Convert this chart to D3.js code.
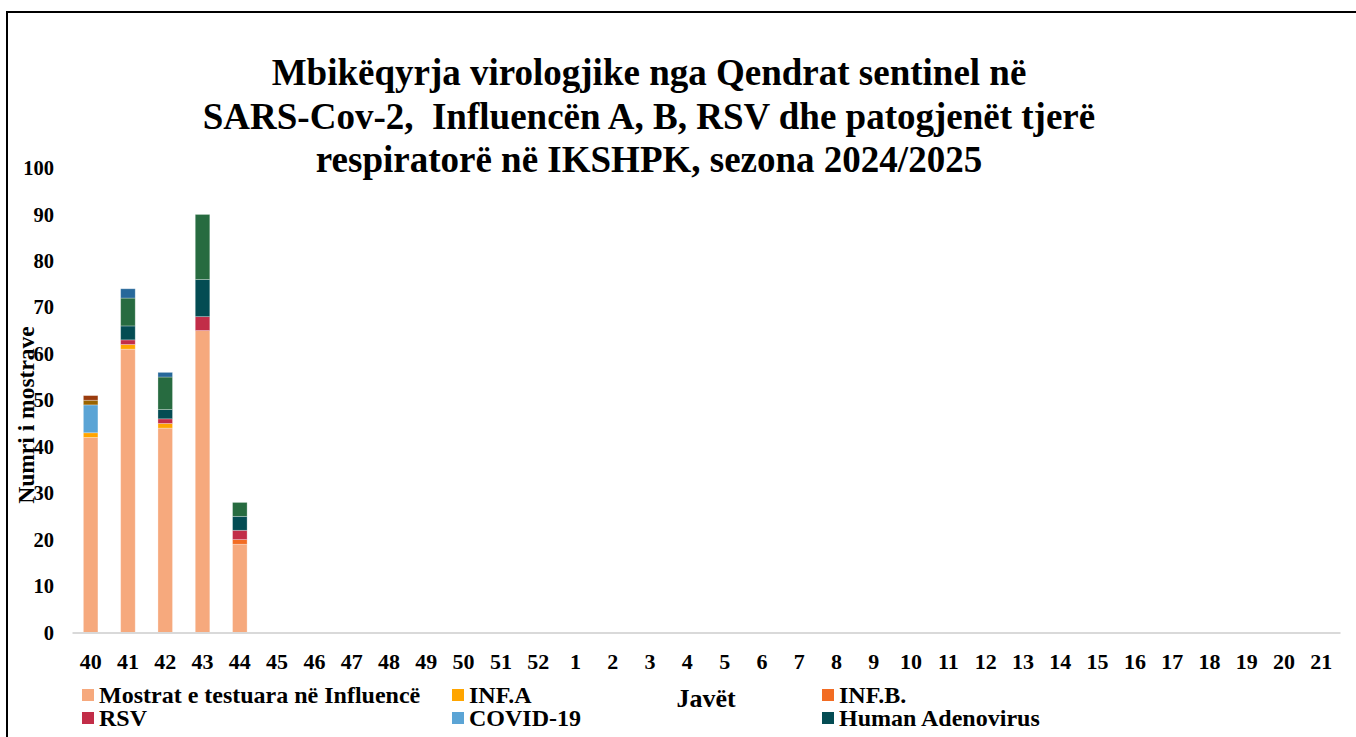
<!DOCTYPE html>
<html>
<head>
<meta charset="utf-8">
<script src="https://cdnjs.cloudflare.com/ajax/libs/d3/7.8.5/d3.min.js"></script>
<style>
    body { margin: 0; background: #fff; }
    svg text { font-family: "Liberation Serif", "Times New Roman", serif; font-weight: bold; fill: #000; }
</style>
</head>
<body>
<svg id="chart" width="1356" height="737"></svg>
<script>
// weeks of the season (x categories)
var weeks = ["40", "41", "42", "43", "44", "45", "46", "47", "48", "49", "50", "51", "52",
    "1", "2", "3", "4", "5", "6", "7", "8", "9", "10", "11", "12", "13", "14", "15", "16",
    "17", "18", "19", "20", "21"];

// series values, bottom of the stack first (only weeks 40-44 have data)
var mostrat = [42, 61, 44, 65, 19];
var infA = [1, 1, 1, 0, 0];
var infB = [0, 0, 0, 0, 1];
var rsv = [0, 1, 1, 3, 2];
var covid = [6, 0, 0, 0, 0];
var adeno = [0, 3, 2, 8, 3];
var rhino = [0, 6, 7, 14, 3];
var metapneumo = [0, 2, 1, 0, 0];
var parainfluenza = [1, 0, 0, 0, 0];
var bocavirus = [1, 0, 0, 0, 0];

var seriesNames = ["Mostrat e testuara në Influencë", "INF.A", "INF.B.", "RSV", "COVID-19",
    "Human Adenovirus", "Rhinovirus", "Human Metapneumovirus", "Parainfluenza", "Bocavirus"];
var seriesValues = [mostrat, infA, infB, rsv, covid, adeno, rhino, metapneumo, parainfluenza, bocavirus];
var seriesColors = ["#f6a97d", "#ffa500", "#f26c23", "#c22d48", "#5ba4d5",
    "#044c53", "#276b40", "#27689a", "#9a6400", "#9a3b0e"];

var yTicks = [0, 10, 20, 30, 40, 50, 60, 70, 80, 90, 100];

var titleLines = ["Mbikëqyrja virologjike nga Qendrat sentinel në",
    "SARS-Cov-2,  Influencën A, B, RSV dhe patogjenët tjerë",
    "respiratorë në IKSHPK, sezona 2024/2025"];

// the legend box is cut off in the original, only 6 entries show
var legendCount = 6;

var svg = d3.select("#chart");

// build table: one row per week
var table = weeks.map(function (w, i) {
    var row = {week: w};
    seriesNames.forEach(function (name, s) {
        row[name] = seriesValues[s][i] || 0;
    });
    return row;
});

var stack = d3.stack().keys(seriesNames);
var stacked = stack(table);

var xScale = d3.scaleBand()
    .domain(weeks)
    .range([72, 1340])
    .paddingInner(0.61)
    .paddingOuter(0.305);

var yScale = d3.scaleLinear()
    .domain([0, 100])
    .range([632.5, 168]);

// outer border (only left and top visible)
svg.append("path")
    .attr("d", "M7,737 L7,12 L1356,12")
    .attr("fill", "none")
    .attr("stroke", "#000")
    .attr("stroke-width", 2);

// title
svg.append("g")
    .selectAll("text")
    .data(titleLines)
    .enter()
    .append("text")
    .attr("x", 649)
    .attr("y", function (d, i) {
        return 85 + i * 43.5;
    })
    .attr("text-anchor", "middle")
    .style("font-size", "37px")
    .style("white-space", "pre")
    .text(function (d) {
        return d;
    });

// bars
var layers = svg.append("g")
    .selectAll("g")
    .data(stacked)
    .enter()
    .append("g")
    .attr("fill", function (d, i) {
        return seriesColors[i];
    });

layers.selectAll("rect")
    .data(function (d) {
        return d.filter(function (p) {
            return p[1] - p[0] > 0;
        });
    })
    .enter()
    .append("rect")
    .attr("x", function (d) {
        return xScale(d.data.week);
    })
    .attr("width", xScale.bandwidth())
    .attr("y", function (d) {
        return yScale(d[1]);
    })
    .attr("height", function (d) {
        return yScale(d[0]) - yScale(d[1]);
    })
    .attr("stroke", "#fff")
    .attr("stroke-opacity", 0.35)
    .attr("stroke-width", 0.8);

// x axis
var xAxis = d3.axisBottom(xScale).tickSize(0).tickPadding(0);
var xAxisG = svg.append("g")
    .attr("transform", "translate(0," + yScale(0) + ")")
    .call(xAxis);
xAxisG.select(".domain").attr("stroke", "#d9d9d9").attr("stroke-width", 2);
xAxisG.selectAll("text")
    .style("font-size", "22px")
    .attr("y", 36.5)
    .attr("dy", null);

// y axis (labels only)
var yAxis = d3.axisLeft(yScale).tickValues(yTicks).tickSize(0).tickPadding(0);
var yAxisG = svg.append("g")
    .attr("transform", "translate(54,0)")
    .call(yAxis);
yAxisG.select(".domain").remove();
yAxisG.selectAll("text")
    .style("font-size", "20.5px");

// axis titles
svg.append("text")
    .attr("transform", "translate(34,415) rotate(-90)")
    .attr("text-anchor", "middle")
    .style("font-size", "23.5px")
    .text("Numri i mostrave");

svg.append("text")
    .attr("x", 706)
    .attr("y", 706.5)
    .attr("text-anchor", "middle")
    .style("font-size", "26px")
    .text("Javët");

// legend
var legendX = [82, 452, 822];
var legend = svg.append("g")
    .selectAll("g")
    .data(seriesNames.slice(0, legendCount))
    .enter()
    .append("g")
    .attr("transform", function (d, i) {
        return "translate(" + legendX[i % 3] + "," + (695 + Math.floor(i / 3) * 23) + ")";
    });

legend.append("rect")
    .attr("x", 0)
    .attr("y", -6)
    .attr("width", 12)
    .attr("height", 12)
    .attr("fill", function (d, i) {
        return seriesColors[i];
    });

legend.append("text")
    .attr("x", 17)
    .attr("y", 8)
    .style("font-size", "24px")
    .text(function (d) {
        return d;
    });
</script>
</body>
</html>
